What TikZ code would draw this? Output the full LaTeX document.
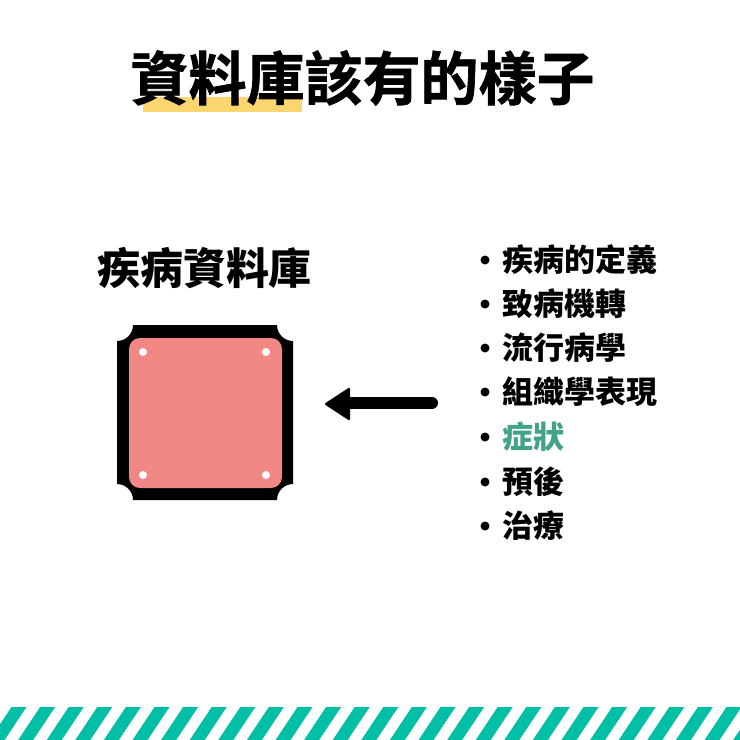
\documentclass[tikz,border=0pt]{standalone}
\usepackage{fontspec}
\newfontfamily\cjk{Noto Sans CJK TC}
\newfontfamily\cjkheavy{Noto Sans CJK TC}[UprightFont=* Bold, UprightFeatures={FakeBold=1.2}]
\definecolor{hilite}{RGB}{251,214,110}
\definecolor{pinkfill}{RGB}{241,136,134}
\definecolor{stripe}{RGB}{0,191,165}
\definecolor{greentext}{RGB}{66,163,136}
\tikzset{
  titletext/.style={font=\cjkheavy\fontsize{58}{60}\selectfont, inner sep=0pt},
  headtext/.style={font=\cjk\bfseries\fontsize{43}{46}\selectfont, inner sep=0pt},
  itemtext/.style={font=\cjk\bfseries\fontsize{31}{34}\selectfont, inner sep=0pt, anchor=west},
  bulletdot/.style={circle, fill=black, inner sep=0pt, minimum size=9pt},
}
\begin{document}
\begin{tikzpicture}[x=1pt,y=-1pt]
\useasboundingbox (0,0) rectangle (740,740);
\fill[white] (0,0) rectangle (740,740);
% title highlight
\fill[hilite] (143,97) rectangle (302,112);
\node[titletext] (title) at (362.5,78) {資料庫該有的樣子};
% heading
\node[headtext] (head) at (204.5,268) {疾病資料庫};
% box
\def\r{16}
\fill[black] (117+\r,325) -- (293-\r,325)
  .. controls (293-\r,325+0.55*\r) and (293-0.55*\r,325+\r) .. (293,325+\r)
  -- (293,500-\r)
  .. controls (293-0.55*\r,500-\r) and (293-\r,500-0.55*\r) .. (293-\r,500)
  -- (117+\r,500)
  .. controls (117+\r,500-0.55*\r) and (117+0.55*\r,500-\r) .. (117,500-\r)
  -- (117,325+\r)
  .. controls (117+0.55*\r,325+\r) and (117+\r,325+0.55*\r) .. (117+\r,325) -- cycle;
\fill[pinkfill, rounded corners=11pt] (129,338) rectangle (282,488);
\foreach \x/\y in {143/352,266/352,143/475,266/475}
  \fill[white] (\x,\y) circle (4);
% arrow
\coordinate (arrS) at (432,403);
\coordinate (arrE) at (345,403);
\draw[line width=12pt, line cap=round] (arrS) -- (arrE);
\fill[black, rounded corners=2pt] (324,404) -- (350,387) -- (350,421) -- cycle;
% list
\foreach \t/\y/\c [count=\i] in {疾病的定義/260/black,致病機轉/304/black,流行病學/348/black,組織學表現/392/black,症狀/437/greentext,預後/482/black,治療/526/black}{
  \node[bulletdot] (b\i) at (485,\y) {};
  \node[itemtext, text=\c] (it\i) at (502,\y) {\t};
}
% stripes
\begin{scope}
\clip (0,707) rectangle (740,740);
\foreach \k in {-2,...,27}{
  \fill[stripe] ({11.5+28.6*\k},707) -- ({26.5+28.6*\k},707) -- ({4.5+28.6*\k},740) -- ({-10.5+28.6*\k},740) -- cycle;
}
\end{scope}
\end{tikzpicture}
\end{document}
